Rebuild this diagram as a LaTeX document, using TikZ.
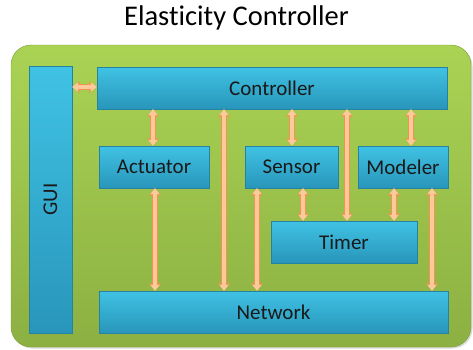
\documentclass[tikz,border=0pt]{standalone}
\usepackage{fontspec}
\setmainfont{Carlito}[Ligatures=NoCommon]
\usepackage{xcolor}
\usetikzlibrary{arrows.meta, shadows}

\definecolor{panelTop}{HTML}{AAD354}
\definecolor{panelBot}{HTML}{8CB042}
\definecolor{panelLine}{HTML}{7E9E3A}
\definecolor{boxTop}{HTML}{40C2E4}
\definecolor{boxBot}{HTML}{2896BA}
\definecolor{boxLine}{HTML}{2682A2}
\definecolor{linkFill}{HTML}{FBC99C}
\definecolor{linkLine}{HTML}{F0954E}

\begin{document}
\begin{tikzpicture}[x=1pt, y=-1pt, >=Triangle, thick]

% --- Style Definitions ---
% Green background panel
\tikzstyle{panel}=[rectangle, rounded corners=20pt, draw=panelLine, thin, top color=panelTop, bottom color=panelBot, inner sep=0pt, drop shadow={shadow xshift=1.5pt, shadow yshift=-1.5pt, opacity=0.3}]
% Component boxes (cyan)
\tikzstyle{block}=[rectangle, draw=boxLine, thin, top color=boxTop, bottom color=boxBot, inner sep=0pt, minimum height=42pt, text=black!90, font=\fontsize{21}{24}\selectfont, drop shadow={shadow xshift=1.2pt, shadow yshift=-1.2pt, opacity=0.35}]
% Two-way links (peach)
\tikzstyle{link}=[{Triangle[width=9.5pt, length=6pt, line width=0pt]}-{Triangle[width=9.5pt, length=6pt, line width=0pt]}, line width=3.8pt, draw=linkFill, preaction={draw=linkLine, line width=5.6pt, {Triangle[width=12pt, length=7.5pt, line width=0pt]}-{Triangle[width=12pt, length=7.5pt, line width=0pt]}}]

\useasboundingbox (0,0) rectangle (473,349);

% --- Title ---
\node[font=\fontsize{28.5}{32}\selectfont] (Title) at (236.5,18) {Elasticity Controller};

% --- Background panel ---
\node[panel, minimum width=460pt, minimum height=302pt] (Panel) at (241,196) {};

% --- Components ---
\node[block, rotate=90, minimum width=267pt, minimum height=43pt] (GUI) at (50.5,199.5) {GUI};
\node[block, minimum width=350pt] (Controller) at (272,88) {Controller};
\node[block, minimum width=110pt] (Actuator) at (154,167) {Actuator};
\node[block, minimum width=93pt] (Sensor) at (291.5,167) {Sensor};
\node[block, minimum width=90pt] (Modeler) at (403,167) {Modeler};
\node[block, minimum width=146pt] (Timer) at (344,242) {Timer};
\node[block, minimum width=349pt] (Network) at (273.5,312) {Network};

% --- Links ---
\draw[link] (GUI.south |- 0,87) -- (Controller.west |- 0,87);

\draw[link] (153,0 |- Controller.south) -- (153,0 |- Actuator.north);
\draw[link] (292,0 |- Controller.south) -- (292,0 |- Sensor.north);
\draw[link] (411,0 |- Controller.south) -- (411,0 |- Modeler.north);
\draw[link] (224,0 |- Controller.south) -- (224,0 |- Network.north);
\draw[link] (347,0 |- Controller.south) -- (347,0 |- Timer.north);

\draw[link] (155,0 |- Actuator.south) -- (155,0 |- Network.north);
\draw[link] (257,0 |- Sensor.south) -- (257,0 |- Network.north);
\draw[link] (303,0 |- Sensor.south) -- (303,0 |- Timer.north);
\draw[link] (394,0 |- Modeler.south) -- (394,0 |- Timer.north);
\draw[link] (432,0 |- Modeler.south) -- (432,0 |- Network.north);

\end{tikzpicture}
\end{document}
